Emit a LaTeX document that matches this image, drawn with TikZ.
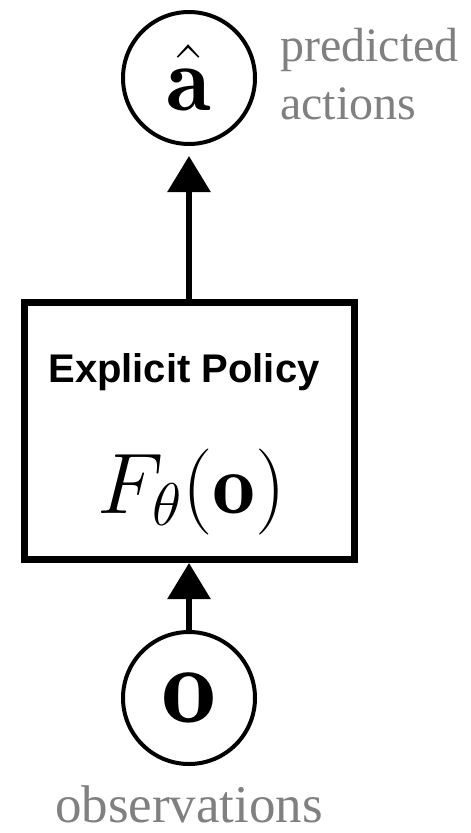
\RequirePackage{fix-cm}
\documentclass[tikz,border=0pt]{standalone}
\usepackage{amsmath, amssymb}
\usepackage{fontspec}
\usepackage{tikz}
\usetikzlibrary{arrows.meta}
\newfontfamily\serifgray{Liberation Serif}
\newfontfamily\sansbold{Liberation Sans}
\definecolor{labelgray}{RGB}{128,128,128}

\begin{document}
\begin{tikzpicture}[x=1pt, y=-1pt, >={Triangle[length=36pt, width=42pt]},
    var/.style={circle, draw, line width=4pt, minimum size=132pt, inner sep=0pt},
    note/.style={text=labelgray, inner sep=0pt, font=\serifgray\fontsize{48}{58}\selectfont}]
    \useasboundingbox (0,0) rectangle (471,833);
    \node[var, font=\fontsize{92}{92}\selectfont] (act) at (189,78) {$\hat{\mathbf{a}}$};
    \node[note, anchor=west, align=left] (actlbl) at (280,74) {predicted\\actions};
    \node[draw, line width=7pt, minimum width=330pt, minimum height=257pt] (pol) at (189,431) {};
    \node[anchor=base, inner sep=0pt, font=\sansbold\bfseries\fontsize{40}{40}\selectfont] (name) at (184,382) {Explicit Policy};
    \node[anchor=base, inner sep=0pt, font=\fontsize{86}{86}\selectfont] (fn) at (192,513) {$F_\theta(\mathbf{o})$};
    \node[var, font=\fontsize{110}{110}\selectfont] (obs) at (189,698) {$\mathbf{o}$};
    \node[note, anchor=base, font=\serifgray\fontsize{53}{53}\selectfont] (obslbl) at (189,822) {observations};
    \draw[->, line width=6pt, shorten >=10pt] (pol.north) -- (act.south);
    \draw[->, line width=6pt] (obs.north) -- (pol.south);
\end{tikzpicture}
\end{document}
